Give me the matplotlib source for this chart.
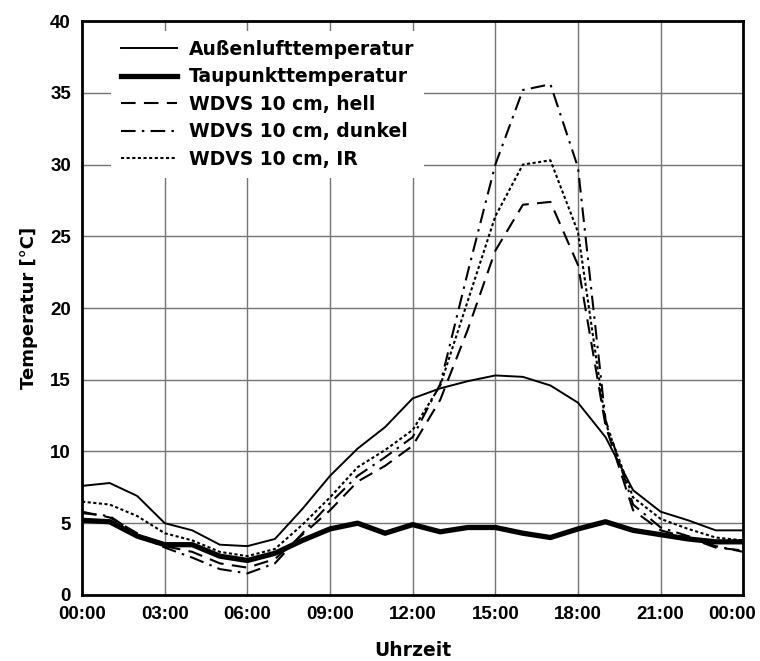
import numpy as np
import matplotlib
matplotlib.use("Agg")
import matplotlib.pyplot as plt
import matplotlib.transforms as mtransforms

# hourly values, 00:00 .. 24:00
stunden = np.arange(0, 25)
aussenluft = [7.6, 7.8, 6.9, 5.0, 4.5, 3.5, 3.4, 3.9, 6.0, 8.3, 10.2, 11.7, 13.7,
              14.4, 14.9, 15.3, 15.2, 14.6, 13.4, 11.0, 7.3, 5.8, 5.2, 4.5, 4.5]
taupunkt = [5.2, 5.1, 4.1, 3.5, 3.5, 2.7, 2.4, 2.9, 3.8, 4.6, 5.0, 4.3, 4.9,
            4.4, 4.7, 4.7, 4.3, 4.0, 4.6, 5.1, 4.5, 4.2, 3.9, 3.7, 3.7]
wdvs_hell = [5.8, 5.4, 4.3, 3.4, 3.0, 2.2, 1.9, 2.5, 4.2, 5.9, 7.9, 9.0, 10.4,
             13.6, 18.5, 24.0, 27.2, 27.4, 23.0, 11.8, 5.9, 4.5, 4.0, 3.3, 3.1]
wdvs_dunkel = [5.7, 5.5, 4.2, 3.3, 2.6, 1.8, 1.5, 2.2, 4.3, 6.4, 8.3, 9.6, 11.0,
               14.7, 22.5, 30.0, 35.2, 35.6, 29.8, 12.2, 6.3, 4.7, 4.1, 3.4, 3.0]
wdvs_ir = [6.5, 6.3, 5.5, 4.3, 3.8, 3.0, 2.7, 3.2, 4.9, 6.8, 8.9, 10.1, 11.5,
           14.6, 20.5, 26.4, 30.0, 30.3, 25.3, 12.0, 6.8, 5.3, 4.6, 4.0, 3.8]

tick_std = [0, 3, 6, 9, 12, 15, 18, 21, 24]
tick_text = ["00:00", "03:00", "06:00", "09:00", "12:00", "15:00", "18:00", "21:00", "00:00"]
namen = ["Außenlufttemperatur", "Taupunkttemperatur", "WDVS 10 cm, hell",
         "WDVS 10 cm, dunkel", "WDVS 10 cm, IR"]

schrift = "Liberation Sans"   # tick labels
schrift2 = "DejaVu Sans"      # legend + axis titles (wider, like the original)

fig = plt.figure(figsize=(7.6, 6.61), dpi=100)
ax = fig.add_axes([0.108, 0.100, 0.870, 0.868])

ax.plot(stunden, aussenluft, color="black", lw=1.4, label=namen[0])
ax.plot(stunden, taupunkt, color="black", lw=3.8, label=namen[1])
ax.plot(stunden, wdvs_hell, color="black", lw=1.5, dashes=(7, 4), label=namen[2])
ax.plot(stunden, wdvs_dunkel, color="black", lw=1.5, dashes=(7, 3, 1.2, 3), label=namen[3])
ax.plot(stunden, wdvs_ir, color="black", lw=1.5, dashes=(1.5, 1.2), label=namen[4])

ax.set_xlim(0, 24)
ax.set_ylim(0, 40)
ax.set_xticks(tick_std)
ax.set_xticklabels(tick_text)
ax.set_yticks(np.arange(0, 41, 5))
ax.grid(True, color="#757575", lw=1.0)
ax.set_axisbelow(True)
ax.tick_params(length=0, pad=8)
for lab in ax.get_xticklabels() + ax.get_yticklabels():
    lab.set_fontfamily(schrift)
    lab.set_fontweight("bold")
    lab.set_fontsize(13.5)
# last label sits a bit to the left, like in the original
letzte = ax.get_xticklabels()[-1]
letzte.set_transform(letzte.get_transform() + mtransforms.ScaledTranslation(-0.11, 0, fig.dpi_scale_trans))
for s in ax.spines.values():
    s.set_linewidth(2.0)

ax.set_xlabel("Uhrzeit", fontfamily=schrift2, fontweight="bold", fontsize=13.5, labelpad=13)
ax.set_ylabel("Temperatur [°C]", fontfamily=schrift2, fontweight="bold", fontsize=13, labelpad=9)

leg = ax.legend(loc="upper left", bbox_to_anchor=(0.03, 1.0), frameon=True, fancybox=False,
                handlelength=3.0, handletextpad=0.65, labelspacing=0.45, borderpad=0.5,
                prop={"family": schrift2, "weight": "bold", "size": 13.5})
leg.get_frame().set_edgecolor("none")
leg.get_frame().set_facecolor("white")
leg.get_frame().set_alpha(1)

fig.savefig("out.png", dpi=100)
